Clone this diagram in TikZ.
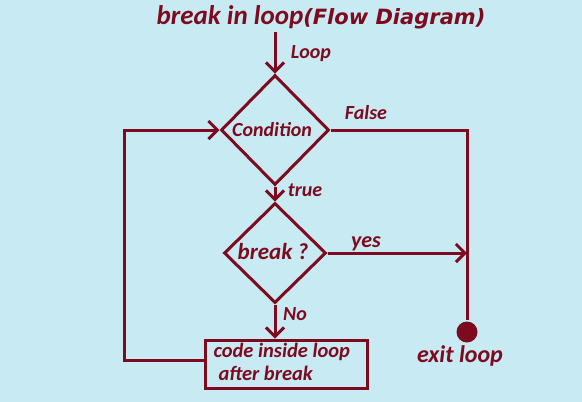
\documentclass[tikz,border=0pt]{standalone}
\usepackage{fontspec}
\setmainfont{Carlito}
\newfontfamily\dejavu{DejaVu Sans}
\usetikzlibrary{shapes.geometric,arrows.meta}
\definecolor{bg}{RGB}{200,234,243}
\definecolor{dr}{RGB}{125,10,30}
\begin{document}
\begin{tikzpicture}[x=1pt,y=-1pt,
  line width=3pt, color=dr,
  >={Straight Barb[length=9pt,width=18pt]},
  every node/.style={text=dr, font=\bfseries\itshape\fontsize{20}{23}\selectfont},
  dia/.style={diamond, draw=dr, line width=3pt, inner sep=0pt},
  lbl/.style={inner sep=0pt},
  big/.style={font=\bfseries\itshape\fontsize{23}{26}\selectfont},
]
\fill[bg] (0,0) rectangle (582,402);
\useasboundingbox (0,0) rectangle (582,402);

\node[lbl, font=\bfseries\itshape\fontsize{27}{30}\selectfont] (title) at (321,17)
  {break in loop{\dejavu\bfseries\itshape\fontsize{21}{24}\selectfont(Flow Diagram)}};

\node[dia, minimum width=108pt, minimum height=110pt] (c1) at (275,130) {};
\node[lbl] (c1t) at (272,130) {Condition};
\coordinate (start) at (275,32);
\draw[->] (start) -- (c1.north);

\node[dia, minimum width=102pt, minimum height=100pt] (c2) at (275,253) {};
\node[lbl, big] (c2t) at (273,252) {break ?};
\draw[->] (c1.south) -- (c2.north);

\node[draw=dr, line width=3pt, minimum width=162pt, minimum height=48pt, inner sep=0pt] (box) at (286,364) {};
\node[lbl, align=left, anchor=west, font=\bfseries\itshape\fontsize{20.5}{23}\selectfont] (boxt) at (212,362) {code inside loop\\\hspace{5pt}after break};

\draw[->] (c2.south) -- (c2.south|-box.north);
\draw[->] ([yshift=4pt]box.west) -- ++(-79,0) |- (c1.west);

\node[circle, fill=dr, minimum size=21pt, inner sep=0pt] (dot) at (467,332) {};
\draw (c1.east) -| (dot.north);
\coordinate (j) at (467,253);
\draw[->] (c2.east) -- (j);

\node[lbl] (lloop) at (311,54) {Loop};
\node[lbl] (lfalse) at (366,113) {False};
\node[lbl] (ltrue) at (305,190) {true};
\node[lbl, font=\bfseries\itshape\fontsize{22}{24}\selectfont] (lyes) at (366,244) {yes};
\node[lbl] (lno) at (295,314) {No};
\node[lbl, font=\bfseries\itshape\fontsize{24}{26}\selectfont] (lexit) at (460,356) {exit loop};
\end{tikzpicture}
\end{document}
